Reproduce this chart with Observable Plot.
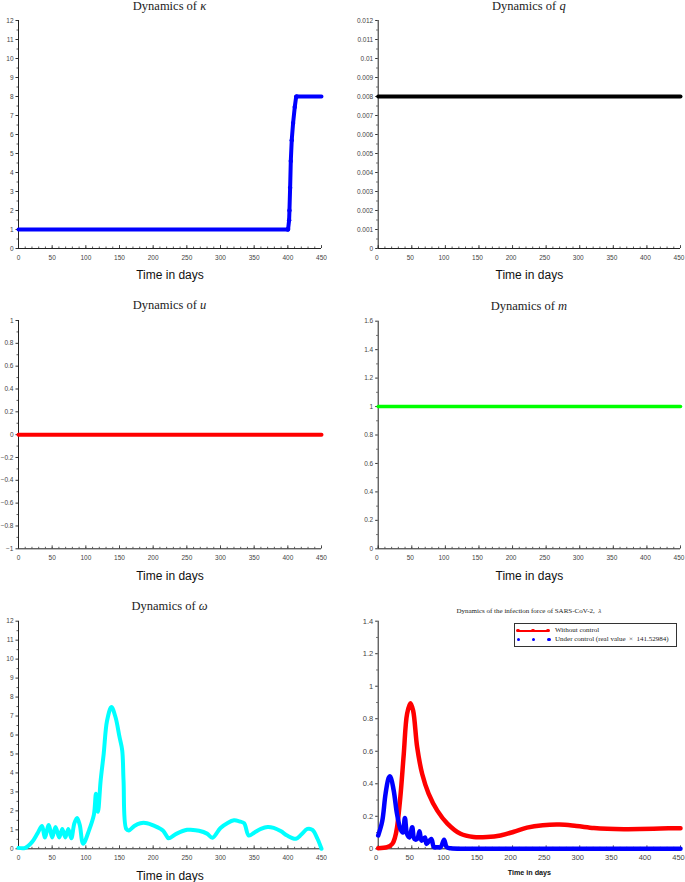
<!DOCTYPE html>
<html>
<head>
<meta charset="utf-8">
<script src="https://cdn.jsdelivr.net/npm/d3@7"></script>
<script src="https://cdn.jsdelivr.net/npm/@observablehq/plot@0.6"></script>
<style>
  body { margin: 0; background: #fff; }
  #root { position: relative; width: 685px; height: 882px; overflow: hidden; background: #fff; }
  .panel { position: absolute; }
  .title { position: absolute; text-align: center; font-family: "Liberation Serif", "DejaVu Serif", serif; color: #222; white-space: nowrap; }
  .legend { position: absolute; border: 1px solid #333; background: #fff; font-family: "Liberation Serif", "DejaVu Serif", serif; font-size: 7px; color: #222; }
</style>
</head>
<body>
<div id="root"></div>
<script>
// ---------- data ----------
const xTicks = [0, 50, 100, 150, 200, 250, 300, 350, 400, 450];

// kappa
const kappaT = [0, 100, 200, 300, 400, 400.4, 401.9, 402.4, 403.4, 404.4, 405.8, 407.8, 410.3, 412.3, 413, 430, 450];
const kappaV = [1, 1, 1, 1, 1, 1.02, 1.49, 2.0, 3.2, 4.6, 5.7, 6.6, 7.45, 7.97, 8, 8, 8];
const kappaTicks = [0,1,2,3,4,5,6,7,8,9,10,11,12];

// q
const qT = [0, 450];
const qV = [0.008, 0.008];
const qTicks = [0,0.001,0.002,0.003,0.004,0.005,0.006,0.007,0.008,0.009,0.01,0.011,0.012];

// u
const uT = [0, 450];
const uV = [0, 0];
const uTicks = [-1,-0.8,-0.6,-0.4,-0.2,0,0.2,0.4,0.6,0.8,1];

// m
const mT = [0, 450];
const mV = [1, 1];
const mTicks = [0,0.2,0.4,0.6,0.8,1,1.2,1.4,1.6];

// omega
const omegaT = [0, 10, 20, 28, 35, 39, 45, 50, 55, 60.5, 65, 69.5, 74, 78.4, 83, 87, 91, 96, 105, 112, 115, 118, 122, 126.5, 131.5, 138, 144, 150, 154, 156, 160, 164, 172, 181, 191, 201, 211, 215, 221, 223, 235, 250.5, 255.5, 268, 280, 288, 300, 310, 320, 328, 335, 342, 350, 360, 370, 379, 390, 399, 412, 420, 429, 436.5, 444, 450];
const omegaV = [0.05, 0.05, 0.35, 0.8, 1.2, 0.6, 1.25, 0.6, 1.15, 0.6, 1.05, 0.6, 1.05, 0.55, 1.35, 1.63, 1.25, 0.27, 1.0, 1.8, 2.9, 1.95, 3.6, 5.0, 6.75, 7.47, 6.95, 5.9, 5.2, 3.6, 1.05, 0.97, 1.2, 1.35, 1.35, 1.22, 1.05, 0.95, 0.62, 0.55, 0.8, 1.0, 1.0, 0.95, 0.8, 0.58, 1.1, 1.35, 1.5, 1.45, 1.35, 0.7, 0.85, 1.05, 1.15, 1.1, 0.92, 0.7, 0.53, 0.75, 1.05, 1.0, 0.53, 0.0];
const omegaTicks = [0,1,2,3,4,5,6,7,8,9,10,11,12];

// lambda
const lamNoT = [0, 13.4, 21, 25, 28, 33, 38, 43, 48, 52, 58, 65.5, 75, 88, 103, 122.5, 142, 162, 182, 202, 221.5, 245, 270, 295, 321, 341, 366, 390, 420, 450];
const lamNoV = [0.004, 0.01, 0.03, 0.07, 0.13, 0.32, 0.58, 0.83, 0.895, 0.85, 0.625, 0.46, 0.34, 0.235, 0.155, 0.092, 0.072, 0.072, 0.082, 0.105, 0.13, 0.145, 0.149, 0.14, 0.128, 0.123, 0.121, 0.122, 0.125, 0.127];
const lamCtT = [0, 6, 11, 16, 18, 23, 28, 33, 36.7, 39.7, 43, 46.6, 50.6, 54, 58, 61.5, 64.5, 69.5, 72, 79, 83, 88, 93, 98, 102, 108, 130, 200, 300, 450];
const lamCtV = [0.082, 0.17, 0.34, 0.44, 0.445, 0.36, 0.215, 0.123, 0.10, 0.19, 0.09, 0.07, 0.133, 0.06, 0.06, 0.108, 0.05, 0.07, 0.03, 0.06, 0.01, 0.01, 0.01, 0.055, 0.01, 0.003, 0, 0, 0, 0];
const lamTicks = [0,0.2,0.4,0.6,0.8,1,1.2,1.4];

const xLabel = "Time in days";
const legendLabels = ["Without control", "Under control (real value  \u00d7  141.52984)"];

// ---------- drawing ----------
const root = document.getElementById("root");
const fmt = d => String(+d.toFixed(4)).replace("-", "\u2212");

function panel(o) {
  const plotH = o.height - o.mt - o.mb;
  const plotW = o.width - o.ml - o.mr;
  const xMinor = d3.range(0, 451, 10);
  const yMinor = d3.range(0, o.yTicks.length - 1).map(i => (o.yTicks[i] + o.yTicks[i + 1]) / 2);
  const chart = Plot.plot({
    width: o.width, height: o.height,
    marginTop: o.mt, marginBottom: o.mb, marginLeft: o.ml, marginRight: o.mr,
    x: { domain: [0, 450] },
    y: { domain: [o.yTicks[0], o.yTicks[o.yTicks.length - 1]] },
    style: { fontFamily: "'Liberation Sans', Arial, sans-serif", fontSize: o.tickFont + "px", color: "#444", background: "transparent", overflow: "visible" },
    marks: [
      Plot.axisY({ ticks: o.yTicks, tickSize: 2.5, tickPadding: 2.5, tickFormat: o.yFmt || fmt, label: null, fontSize: o.tickFont, stroke: "#333" }),
      Plot.tickY(yMinor, { y: d => d, insetRight: plotW - 1.5, dx: -1.5, stroke: "#333", strokeWidth: 0.8 }),
      Plot.axisX({ ticks: xTicks, tickSize: 0, tickPadding: o.xPad, tickFormat: d => String(d), label: null, fontSize: o.tickFont, dx: o.xdx || 0 }),
      Plot.tickX(xTicks, { x: d => d, insetTop: plotH - 3, stroke: "#333", strokeWidth: 0.8 }),
      Plot.tickX(xMinor, { x: d => d, insetTop: plotH - 1.5, stroke: "#333", strokeWidth: 0.8 }),
      Plot.ruleX([0], { stroke: "#222", strokeWidth: 1 }),
      Plot.ruleY([o.yTicks[0]], { stroke: "#222", strokeWidth: 1 }),
      Plot.text([xLabel], { text: d => d, frameAnchor: "bottom", dy: o.xlabDy, fontSize: o.xlabSize, fontWeight: o.xlabWeight || "normal", fill: "#111", lineAnchor: "middle" }),
      ...o.marks
    ]
  });
  chart.classList.add("panel");
  chart.style.left = o.left + "px";
  chart.style.top = o.top + "px";
  root.appendChild(chart);
  const t = document.createElement("div");
  t.className = "title";
  t.innerHTML = o.title;
  t.style.fontSize = o.titleSize + "px";
  t.style.left = (o.left + o.ml) + "px";
  t.style.width = plotW + "px";
  t.style.top = (o.top + o.titleY - o.titleSize * 0.6) + "px";
  t.style.lineHeight = (o.titleSize * 1.2) + "px";
  root.appendChild(t);
}

const idx = arr => arr.map((_, i) => i);

// Panel 1: kappa
panel({
  left: 0, top: 0, width: 340, height: 290, mt: 20, mb: 42, ml: 18, mr: 19,
  yTicks: kappaTicks, tickFont: 6.5, xPad: 6.5, xlabDy: 27, xlabSize: 12,
  title: "Dynamics of <i>\u03ba</i>", titleSize: 12.5, titleY: 6,
  marks: [
    Plot.line(idx(kappaT), { x: i => kappaT[i], y: i => kappaV[i], stroke: "#0000ff", strokeWidth: 4 }),
    Plot.dot(idx(kappaT).filter(i => kappaT[i] >= 400 && kappaT[i] <= 413), { x: i => kappaT[i], y: i => kappaV[i], r: 2.2, fill: "#0000ff" })
  ]
});

// Panel 2: q
panel({
  left: 340, top: 0, width: 345, height: 290, mt: 20, mb: 42, ml: 37.7, mr: 5, xdx: -1.5,
  yTicks: qTicks, tickFont: 6.5, xPad: 6.5, xlabDy: 27, xlabSize: 12,
  title: "Dynamics of <i>q</i>", titleSize: 12.5, titleY: 6,
  marks: [
    Plot.line(idx(qT), { x: i => qT[i], y: i => qV[i], stroke: "#000", strokeWidth: 4 })
  ]
});

// Panel 3: u
panel({
  left: 0, top: 290, width: 340, height: 290, mt: 30, mb: 31.7, ml: 18, mr: 19,
  yTicks: uTicks, tickFont: 6.5, xPad: 6.5, xlabDy: 27, xlabSize: 12,
  title: "Dynamics of <i>u</i>", titleSize: 12.5, titleY: 15,
  marks: [
    Plot.line(idx(uT), { x: i => uT[i], y: i => uV[i], stroke: "#ff0000", strokeWidth: 4 })
  ]
});

// Panel 4: m
panel({
  left: 340, top: 290, width: 345, height: 290, mt: 30.7, mb: 31.7, ml: 37.7, mr: 5, xdx: -1.5,
  yTicks: mTicks, tickFont: 6.5, xPad: 6.5, xlabDy: 27, xlabSize: 12,
  title: "Dynamics of <i>m</i>", titleSize: 12.5, titleY: 16,
  marks: [
    Plot.line(idx(mT), { x: i => mT[i], y: i => mV[i], stroke: "#00ff00", strokeWidth: 3.5 })
  ]
});

// Panel 5: omega
panel({
  left: 0, top: 580, width: 340, height: 302, mt: 40.7, mb: 33.7, ml: 18, mr: 19,
  yTicks: omegaTicks, tickFont: 6.5, xPad: 6.5, xlabDy: 27, xlabSize: 12,
  title: "Dynamics of <i>\u03c9</i>", titleSize: 12.5, titleY: 26,
  marks: [
    Plot.line(idx(omegaT), { x: i => omegaT[i], y: i => omegaV[i], stroke: "#00ffff", strokeWidth: 4, curve: "catmull-rom" })
  ]
});

// Panel 6: lambda
panel({
  left: 340, top: 580, width: 345, height: 302, mt: 40.7, mb: 33.7, ml: 37.7, mr: 5, xdx: -2,
  yTicks: lamTicks, tickFont: 7.5, xPad: 6, xlabDy: 23.4, xlabSize: 7.2, xlabWeight: "bold",
  title: "Dynamics of the infection force of SARS-CoV-2,&nbsp; <i>\u03bb</i>", titleSize: 7, titleY: 30.7,
  marks: [
    Plot.line(idx(lamNoT), { x: i => lamNoT[i], y: i => lamNoV[i], stroke: "#ff0000", strokeWidth: 4.5, curve: "catmull-rom" }),
    Plot.line(idx(lamCtT), { x: i => lamCtT[i], y: i => lamCtV[i], stroke: "#0000ff", strokeWidth: 4.5, curve: "catmull-rom" })
  ]
});

// Legend (panel 6)
const lg = document.createElement("div");
lg.className = "legend";
lg.style.left = "514px"; lg.style.top = "622.5px"; lg.style.width = "161px"; lg.style.height = "22px";
lg.innerHTML = `
  <div style="position:absolute;left:3px;top:6px;width:31px;height:2.4px;background:#ff0000"></div>
  ${[3, 18, 33].map(l => `<div style="position:absolute;left:${l - 1.6}px;top:5.6px;width:3.2px;height:3.2px;border-radius:50%;background:#ff0000"></div>`).join("")}
  ${[3.5, 18.5, 34].map(l => `<div style="position:absolute;left:${l - 1.6}px;top:14.5px;width:3.2px;height:3.2px;border-radius:50%;background:#0000ff"></div>`).join("")}
  <div style="position:absolute;left:40px;top:2.5px;line-height:8px;white-space:nowrap">${legendLabels[0]}</div>
  <div style="position:absolute;left:40px;top:11.5px;line-height:8px;white-space:pre">${legendLabels[1]}</div>
`;
root.appendChild(lg);
</script>
</body>
</html>
